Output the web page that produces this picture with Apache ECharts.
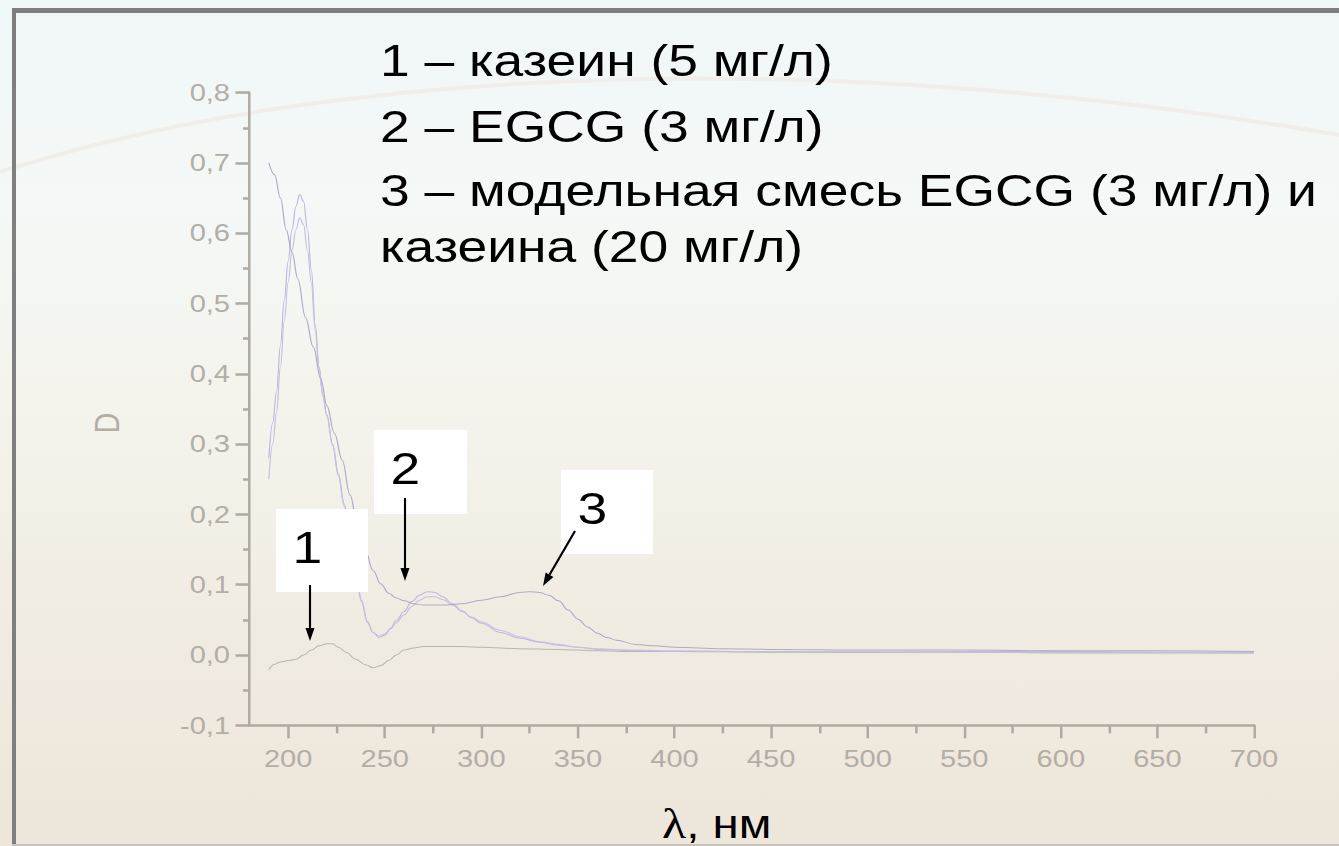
<!DOCTYPE html>
<html lang="ru">
<head>
<meta charset="utf-8">
<title>Спектры поглощения: казеин, EGCG и их смесь</title>
<script src="https://cdn.jsdelivr.net/npm/echarts@6/dist/echarts.min.js"></script>
<style>
  html, body { margin: 0; padding: 0; overflow: hidden; background: #efeae0; }
  #stage { width: 1339px; height: 846px; overflow: hidden; }
  /* the slide is laid out at 4:3 and widened to fill the 1339 px page */
  #chart { width: 1128px; height: 846px; transform-origin: 0 0; transform: scaleX(1.1870567); }
</style>
</head>
<body>
<div id="stage"><div id="chart"></div></div>
<script>
// ---- spectra: wavelength (nm) and optical density D ----
// 1 – casein (5 mg/L)
const wlCasein = [190,193,196,200,204,208,212,216,220,223,226,230,235,240,244,248,252,256,260,265,270,280,290,300,320,340,360,380,400,450,500,550,600,650,700];
const dCasein  = [-0.021,-0.013,-0.010,-0.008,-0.006,0.000,0.007,0.013,0.016,0.016,0.011,0.004,-0.006,-0.014,-0.018,-0.015,-0.008,0.000,0.007,0.010,0.012,0.012,0.012,0.011,0.009,0.008,0.006,0.005,0.005,0.004,0.004,0.004,0.003,0.003,0.003];

// 2 – EGCG (3 mg/L), two recordings
const wlEgcg = [190,192,194,196,198,200,202,204,206,208,210,212,214,216,218,220,223,226,229,232,235,238,241,244,247,250,253,256,260,264,268,272,276,280,285,290,295,300,310,320,330,340,350,360,380,400,450,500,550,600,650,700];
const dEgcgA = [0.280,0.330,0.375,0.440,0.505,0.560,0.605,0.638,0.655,0.645,0.605,0.548,0.470,0.410,0.370,0.342,0.300,0.258,0.215,0.168,0.118,0.078,0.048,0.032,0.025,0.028,0.038,0.049,0.062,0.076,0.085,0.090,0.089,0.083,0.073,0.063,0.053,0.045,0.032,0.024,0.018,0.014,0.011,0.008,0.006,0.005,0.005,0.004,0.005,0.005,0.004,0.004];
const dEgcgB = [0.250,0.300,0.345,0.410,0.475,0.530,0.575,0.605,0.622,0.612,0.575,0.530,0.462,0.408,0.368,0.340,0.298,0.255,0.212,0.165,0.115,0.075,0.046,0.032,0.027,0.030,0.037,0.046,0.057,0.069,0.078,0.083,0.083,0.079,0.071,0.062,0.054,0.047,0.035,0.026,0.019,0.015,0.011,0.009,0.007,0.006,0.005,0.005,0.004,0.004,0.004,0.003];

// 3 – model mixture EGCG (3 mg/L) + casein (20 mg/L)
const wlMix = [190,193,196,199,202,205,209,213,217,220,224,228,232,236,240,244,248,252,256,260,265,270,275,280,290,300,310,320,325,330,335,340,345,350,355,360,365,370,380,390,400,425,450,500,550,600,650,700];
const dMix  = [0.700,0.683,0.650,0.605,0.573,0.535,0.480,0.438,0.392,0.355,0.315,0.277,0.228,0.185,0.148,0.120,0.101,0.088,0.081,0.077,0.073,0.071,0.071,0.071,0.073,0.078,0.083,0.089,0.090,0.089,0.085,0.077,0.064,0.051,0.040,0.031,0.025,0.021,0.015,0.013,0.011,0.009,0.008,0.007,0.007,0.006,0.006,0.005];

// axis ticks
const xMajorTicks = [200,250,300,350,400,450,500,550,600,650,700];
const xMinorTicks = [225,275,325,375,425,475,525,575,625,675];

// caption lines and curve numbers
const captionLines = ['1 – казеин (5 мг/л)', '2 – EGCG (3 мг/л)', '3 – модельная смесь EGCG (3 мг/л) и', 'казеина (20 мг/л)'];
const curveNumbers = ['1', '2', '3'];

// ---- layout (page pixels; x is divided by the stretch factor) ----
const SX = 1339 / 1128;
const px = X => X / SX;

const captionLeft = 380;
const captionBaselines = [76, 142, 206, 262];
const noteLayout = [
  { box: [276, 509, 368, 592], arrow: [310, 585, 310, 641] },
  { box: [374, 430, 467, 514], arrow: [405, 498, 405, 581] },
  { box: [561, 470, 653, 554], arrow: [575, 531, 543, 586] }
];

const SANS = '"Liberation Sans", Arial, sans-serif';
const AXIS_GRAY = '#aeaaa2';
const LABEL_GRAY = '#b2aea6';

const pairs = (xs, ys) => xs.map((x, i) => [x, ys[i]]);

function arrowShapes(x1, y1, x2, y2) {
  const dx = x2 - x1, dy = y2 - y1, len = Math.hypot(dx, dy);
  const ux = dx / len, uy = dy / len;
  const L = 13, W = 4.5;
  const bx = x2 - ux * L, by = y2 - uy * L;
  const pts = [[x2, y2], [bx - uy * W, by + ux * W], [bx + uy * W, by - ux * W]];
  return [
    { type: 'line', z: 102, silent: true,
      shape: { x1: px(x1), y1: y1, x2: px(bx), y2: by },
      style: { stroke: '#000', lineWidth: 1.8 } },
    { type: 'polygon', z: 102, silent: true,
      shape: { points: pts.map(p => [px(p[0]), p[1]]) },
      style: { fill: '#000' } }
  ];
}

function textEl(text, x, y, font, fill, align, extra) {
  return Object.assign({
    type: 'text', x: x, y: y, silent: true, z: 101,
    style: { text: text, font: font, fill: fill,
             textAlign: align, align: align,
             textVerticalAlign: 'middle', verticalAlign: 'middle' }
  }, extra || {});
}

const graphics = [];

// decorative arc of the slide background
graphics.push({
  type: 'bezierCurve', z: 0, silent: true,
  shape: { x1: 0, y1: 172, cpx1: px(350), cpy1: 60, cpx2: px(850), cpy2: 50, x2: px(1339), y2: 135 },
  style: { stroke: 'rgba(240,234,228,0.7)', lineWidth: 4, fill: null }
});

// slide frame
graphics.push(
  { type: 'rect', z: 1, silent: true, shape: { x: px(12), y: 8, width: 1128, height: 5 }, style: { fill: '#7f7f7f' } },
  { type: 'rect', z: 1, silent: true, shape: { x: px(12), y: 8, width: px(4), height: 838 }, style: { fill: '#7f7f7f' } },
  { type: 'rect', z: 1, silent: true, shape: { x: px(12), y: 844, width: 1128, height: 2 }, style: { fill: '#c6c2ba' } }
);

// caption
captionLines.forEach((line, i) => {
  graphics.push(textEl(line, px(captionLeft), captionBaselines[i] - 0.35 * 45, '45px ' + SANS, '#000', 'left'));
});

// numbered boxes with arrows
noteLayout.forEach((n, i) => {
  const [x0, y0, x1, y1] = n.box;
  graphics.push({
    type: 'rect', z: 100, silent: true,
    shape: { x: px(x0), y: y0, width: px(x1) - px(x0), height: y1 - y0 },
    style: { fill: '#ffffff' }
  });
  graphics.push(textEl(curveNumbers[i], px(x0) + 14, y0 + 54 - 0.35 * 45, '45px ' + SANS, '#000', 'left'));
  graphics.push(...arrowShapes(...n.arrow));
});

// axis titles
graphics.push(textEl('D', px(107), 423, '29px ' + SANS, LABEL_GRAY, 'center', { rotation: Math.PI / 2 }));

graphics.push({
  type: 'text', x: px(662), y: 824, z: 101, silent: true,
  style: {
    text: '{l|λ}{r|, нм}',
    textAlign: 'left', align: 'left', textVerticalAlign: 'middle', verticalAlign: 'middle',
    rich: {
      l: { font: '42px "Liberation Serif", "Times New Roman", serif', fill: '#000' },
      r: { font: '40px ' + SANS, fill: '#000' }
    }
  }
});

const lineSeries = (name, xs, ys, color) => ({
  name: name, type: 'line', data: pairs(xs, ys),
  xAxisIndex: 0, yAxisIndex: 0,
  showSymbol: false, symbol: 'none', silent: true,
  smooth: 0.4, smoothMonotone: 'x',
  lineStyle: { color: color, width: 1 }, z: 2
});

const chart = echarts.init(document.getElementById('chart'), null, { renderer: 'svg', width: 1128, height: 846 });

chart.setOption({
  animation: false,
  backgroundColor: {
    type: 'linear', x: 0, y: 0, x2: 0, y2: 1,
    colorStops: [
      { offset: 0, color: '#f0f7f8' },
      { offset: 0.25, color: '#f4f8f6' },
      { offset: 0.5, color: '#f4f3eb' },
      { offset: 0.75, color: '#f0ebe1' },
      { offset: 1, color: '#ede6da' }
    ]
  },
  grid: { left: 210.2, right: 71.6, top: 92.6, bottom: 120.7 },
  xAxis: [
    {
      type: 'value', min: 180, max: 700, position: 'bottom',
      axisLine: { show: true, onZero: false, lineStyle: { color: AXIS_GRAY, width: 2.5 } },
      axisTick: { show: true, customValues: xMajorTicks, length: 13, lineStyle: { color: AXIS_GRAY, width: 2.1 } },
      axisLabel: { customValues: xMajorTicks, margin: 33, verticalAlign: 'middle',
                   fontFamily: SANS, fontSize: 24.5, color: LABEL_GRAY },
      splitLine: { show: false }
    },
    {
      type: 'value', min: 180, max: 700, position: 'bottom',
      axisLine: { show: false, onZero: false },
      axisTick: { show: true, customValues: xMinorTicks, length: 8, lineStyle: { color: AXIS_GRAY, width: 2.1 } },
      axisLabel: { show: false },
      splitLine: { show: false }
    }
  ],
  yAxis: {
    type: 'value', min: -0.1, max: 0.8, interval: 0.1,
    axisLine: { show: true, onZero: false, lineStyle: { color: AXIS_GRAY, width: 2.1 } },
    axisTick: { show: true, length: 11.8, lineStyle: { color: AXIS_GRAY, width: 2.5 } },
    minorTick: { show: true, splitNumber: 2, length: 5.5, lineStyle: { color: AXIS_GRAY, width: 2.5 } },
    axisLabel: { margin: 16.4, fontFamily: SANS, fontSize: 24.5, color: LABEL_GRAY,
                 formatter: v => v.toFixed(1).replace('.', ',') },
    splitLine: { show: false },
    minorSplitLine: { show: false }
  },
  series: [
    lineSeries('казеин', wlCasein, dCasein, '#afbaab'),
    lineSeries('EGCG', wlEgcg, dEgcgA, '#beb6df'),
    lineSeries('EGCG', wlEgcg, dEgcgB, '#c6bfe4'),
    lineSeries('смесь', wlMix, dMix, '#afa9c7')
  ],
  graphic: { elements: graphics }
});
</script>
</body>
</html>
